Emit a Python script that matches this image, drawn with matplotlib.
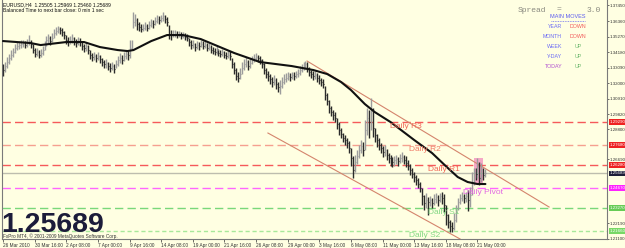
import numpy as np
import matplotlib
matplotlib.use("Agg")
import matplotlib.pyplot as plt
import matplotlib.transforms as mtransforms

# --- dados do gráfico (EURUSD H4) ---
highs = [
    1.3335, 1.3349, 1.3384, 1.3405, 1.3433, 1.3447, 1.3475, 1.3489, 1.3496, 1.3503,
    1.3503, 1.3496, 1.3510, 1.3538, 1.3503, 1.3475, 1.3447, 1.3447, 1.3433, 1.3440,
    1.3461, 1.3496, 1.3531, 1.3545, 1.3531, 1.3552, 1.3580, 1.3594, 1.3601, 1.3594,
    1.3587, 1.3566, 1.3538, 1.3524, 1.3531, 1.3545, 1.3524, 1.3510, 1.3524, 1.3517,
    1.3496, 1.3475, 1.3489, 1.3468, 1.3433, 1.3412, 1.3419, 1.3405, 1.3419, 1.3398,
    1.3377, 1.3363, 1.3370, 1.3349, 1.3342, 1.3349, 1.3335, 1.3363, 1.3391, 1.3412,
    1.3398, 1.3419, 1.3433, 1.3426, 1.3503, 1.3503, 1.3699, 1.3685, 1.3657, 1.3629,
    1.3615, 1.3615, 1.3629, 1.3615, 1.3636, 1.3650, 1.3643, 1.3664, 1.3678, 1.3671,
    1.3678, 1.3699, 1.3678, 1.3664, 1.3608, 1.3573, 1.3573, 1.3573, 1.3566, 1.3566,
    1.3559, 1.3559, 1.3552, 1.3545, 1.3517, 1.3503, 1.3503, 1.3482, 1.3496, 1.3489,
    1.3503, 1.3496, 1.3496, 1.3482, 1.3482, 1.3468, 1.3454, 1.3447, 1.3461, 1.3440,
    1.3433, 1.3440, 1.3426, 1.3419, 1.3426, 1.3426, 1.3377, 1.3349, 1.3307, 1.3279,
    1.3307, 1.3349, 1.3370, 1.3384, 1.3363, 1.3377, 1.3391, 1.3405, 1.3412, 1.3398,
    1.3391, 1.3370, 1.3342, 1.3307, 1.3286, 1.3265, 1.3244, 1.3258, 1.3237, 1.3209,
    1.3223, 1.3244, 1.3265, 1.3272, 1.3279, 1.3272, 1.3279, 1.3279, 1.3286, 1.3300,
    1.3321, 1.3335, 1.3349, 1.3356, 1.3349, 1.3314, 1.3293, 1.3286, 1.3286, 1.3272,
    1.3258, 1.3237, 1.3230, 1.3181, 1.3132, 1.3083, 1.3041, 1.3013, 1.2999, 1.2957,
    1.2929, 1.2887, 1.2852, 1.2838, 1.2817, 1.2796, 1.2747, 1.2691, 1.2698, 1.2733,
    1.2768, 1.2803, 1.2789, 1.2943, 1.3027, 1.3013, 1.3097, 1.3027, 1.2887, 1.2845,
    1.2817, 1.2782, 1.2761, 1.2768, 1.2740, 1.2712, 1.2698, 1.2684, 1.2691, 1.2698,
    1.2684, 1.2705, 1.2719, 1.2698, 1.2691, 1.2663, 1.2635, 1.2607, 1.2579, 1.2558,
    1.2537, 1.2509, 1.2467, 1.2418, 1.2432, 1.2404, 1.2411, 1.2397, 1.2425, 1.2432,
    1.2418, 1.2432, 1.2439, 1.2425, 1.2348, 1.2285, 1.2243, 1.2229, 1.2292, 1.2348,
    1.2397, 1.2425, 1.2439, 1.2425, 1.2439, 1.2453, 1.2474, 1.2579, 1.2607, 1.2607,
    1.2677, 1.2649, 1.2642, 1.2607, 1.2597,
]
lows = [
    1.3251, 1.3279, 1.3307, 1.3335, 1.3363, 1.3384, 1.3412, 1.3433, 1.3440, 1.3447,
    1.3454, 1.3447, 1.3454, 1.3468, 1.3447, 1.3412, 1.3384, 1.3391, 1.3377, 1.3384,
    1.3398, 1.3433, 1.3461, 1.3482, 1.3468, 1.3489, 1.3517, 1.3538, 1.3552, 1.3545,
    1.3531, 1.3510, 1.3475, 1.3461, 1.3475, 1.3482, 1.3468, 1.3454, 1.3468, 1.3461,
    1.3433, 1.3419, 1.3426, 1.3405, 1.3370, 1.3356, 1.3363, 1.3349, 1.3363, 1.3342,
    1.3321, 1.3307, 1.3307, 1.3293, 1.3279, 1.3293, 1.3272, 1.3307, 1.3321, 1.3342,
    1.3335, 1.3356, 1.3370, 1.3363, 1.3377, 1.3433, 1.3587, 1.3601, 1.3573, 1.3566,
    1.3559, 1.3566, 1.3573, 1.3566, 1.3580, 1.3594, 1.3587, 1.3608, 1.3622, 1.3615,
    1.3629, 1.3636, 1.3622, 1.3601, 1.3510, 1.3503, 1.3524, 1.3524, 1.3517, 1.3524,
    1.3510, 1.3517, 1.3503, 1.3496, 1.3461, 1.3440, 1.3447, 1.3426, 1.3440, 1.3433,
    1.3454, 1.3440, 1.3447, 1.3426, 1.3433, 1.3412, 1.3405, 1.3398, 1.3405, 1.3391,
    1.3384, 1.3391, 1.3377, 1.3370, 1.3377, 1.3363, 1.3307, 1.3265, 1.3223, 1.3209,
    1.3230, 1.3265, 1.3293, 1.3314, 1.3293, 1.3307, 1.3335, 1.3349, 1.3356, 1.3349,
    1.3335, 1.3307, 1.3265, 1.3237, 1.3216, 1.3195, 1.3174, 1.3188, 1.3160, 1.3139,
    1.3125, 1.3167, 1.3195, 1.3209, 1.3223, 1.3216, 1.3230, 1.3223, 1.3237, 1.3244,
    1.3258, 1.3279, 1.3293, 1.3300, 1.3279, 1.3251, 1.3237, 1.3223, 1.3230, 1.3209,
    1.3195, 1.3181, 1.3167, 1.3083, 1.3048, 1.2992, 1.2971, 1.2943, 1.2929, 1.2880,
    1.2838, 1.2817, 1.2789, 1.2768, 1.2747, 1.2712, 1.2621, 1.2537, 1.2579, 1.2635,
    1.2677, 1.2712, 1.2691, 1.2733, 1.2838, 1.2817, 1.2873, 1.2824, 1.2789, 1.2754,
    1.2733, 1.2712, 1.2684, 1.2691, 1.2663, 1.2642, 1.2621, 1.2614, 1.2621, 1.2635,
    1.2621, 1.2642, 1.2649, 1.2635, 1.2614, 1.2593, 1.2558, 1.2537, 1.2509, 1.2488,
    1.2467, 1.2439, 1.2348, 1.2313, 1.2327, 1.2278, 1.2341, 1.2327, 1.2348, 1.2362,
    1.2341, 1.2369, 1.2355, 1.2299, 1.2208, 1.2187, 1.2159, 1.2159, 1.2173, 1.2229,
    1.2313, 1.2355, 1.2376, 1.2362, 1.2369, 1.2306, 1.2334, 1.2418, 1.2488, 1.2523,
    1.2537, 1.2488, 1.2509, 1.2523, 1.2546,
]
closes = [
    1.3293, 1.3321, 1.3349, 1.3377, 1.3398, 1.3419, 1.3447, 1.3461, 1.3468, 1.3475,
    1.3482, 1.3468, 1.3482, 1.3496, 1.3475, 1.3433, 1.3405, 1.3419, 1.3398, 1.3412,
    1.3433, 1.3468, 1.3503, 1.3517, 1.3496, 1.3517, 1.3552, 1.3566, 1.3580, 1.3573,
    1.3559, 1.3538, 1.3503, 1.3489, 1.3503, 1.3517, 1.3496, 1.3482, 1.3496, 1.3489,
    1.3461, 1.3447, 1.3461, 1.3433, 1.3398, 1.3384, 1.3391, 1.3377, 1.3391, 1.3370,
    1.3349, 1.3335, 1.3342, 1.3321, 1.3307, 1.3321, 1.3300, 1.3335, 1.3363, 1.3377,
    1.3363, 1.3391, 1.3405, 1.3398, 1.3447, 1.3468, 1.3629, 1.3643, 1.3615, 1.3594,
    1.3580, 1.3587, 1.3601, 1.3587, 1.3608, 1.3622, 1.3615, 1.3636, 1.3650, 1.3643,
    1.3657, 1.3671, 1.3650, 1.3629, 1.3545, 1.3538, 1.3545, 1.3552, 1.3538, 1.3545,
    1.3531, 1.3538, 1.3524, 1.3517, 1.3489, 1.3468, 1.3475, 1.3454, 1.3468, 1.3461,
    1.3475, 1.3461, 1.3468, 1.3447, 1.3454, 1.3433, 1.3426, 1.3419, 1.3433, 1.3412,
    1.3405, 1.3419, 1.3398, 1.3391, 1.3398, 1.3391, 1.3335, 1.3293, 1.3251, 1.3237,
    1.3265, 1.3307, 1.3335, 1.3349, 1.3321, 1.3342, 1.3363, 1.3377, 1.3384, 1.3377,
    1.3363, 1.3335, 1.3293, 1.3265, 1.3251, 1.3230, 1.3209, 1.3223, 1.3195, 1.3174,
    1.3181, 1.3209, 1.3230, 1.3237, 1.3251, 1.3244, 1.3258, 1.3251, 1.3265, 1.3272,
    1.3293, 1.3307, 1.3321, 1.3335, 1.3307, 1.3279, 1.3265, 1.3251, 1.3258, 1.3237,
    1.3223, 1.3209, 1.3195, 1.3118, 1.3076, 1.3027, 1.2999, 1.2978, 1.2957, 1.2915,
    1.2873, 1.2845, 1.2817, 1.2803, 1.2782, 1.2747, 1.2677, 1.2593, 1.2649, 1.2691,
    1.2733, 1.2761, 1.2733, 1.2873, 1.2957, 1.2929, 1.3013, 1.2887, 1.2838, 1.2803,
    1.2768, 1.2747, 1.2719, 1.2733, 1.2698, 1.2677, 1.2663, 1.2649, 1.2663, 1.2670,
    1.2656, 1.2677, 1.2684, 1.2663, 1.2642, 1.2621, 1.2593, 1.2565, 1.2544, 1.2523,
    1.2495, 1.2467, 1.2411, 1.2362, 1.2383, 1.2369, 1.2383, 1.2362, 1.2390, 1.2404,
    1.2383, 1.2411, 1.2397, 1.2348, 1.2278, 1.2229, 1.2201, 1.2187, 1.2243, 1.2299,
    1.2369, 1.2397, 1.2411, 1.2397, 1.2411, 1.2383, 1.2418, 1.2509, 1.2579, 1.2565,
    1.2628, 1.2537, 1.2593, 1.2558, 1.25689,
]

# média móvel
ma_idx = [0, 14, 19, 32, 41, 49, 58, 63, 66, 70, 75, 83, 91, 100, 117, 130, 146, 157,
          164, 171, 176, 183, 188, 196, 208, 217, 225, 230, 235, 240, 244]
ma_val = [1.3496, 1.3482, 1.3468, 1.3489, 1.3489, 1.3454, 1.3433, 1.3426, 1.3433,
          1.3461, 1.3496, 1.3538, 1.3538, 1.3510, 1.3412, 1.3349, 1.3321, 1.3293,
          1.3265, 1.3209, 1.3153, 1.3055, 1.2999, 1.2929, 1.2803, 1.2712, 1.2607,
          1.2544, 1.2509, 1.2495, 1.2495]

# canal de tendência
canal_sup_idx = [153.8, 276.2]
canal_sup_val = [1.3356, 1.2334]
canal_inf_idx = [134.0, 231.2]
canal_inf_val = [1.2852, 1.2110]

# pivôs diários
pivo_nomes = ["Daily R3", "Daily R2", "Daily R1", "Daily Pivot", "Daily S1", "Daily S2"]
pivo_vals = [1.2929, 1.2768, 1.2628, 1.2467, 1.2327, 1.2166]

# faixa do dia (retângulo rosa)
faixa_idx = [238, 243]
faixa_vals = [1.2488, 1.2677]

preco_atual = 1.25689

x_labels = ["26 Mar 2010", "30 Mar 16:00", "2 Apr 08:00", "7 Apr 00:00", "9 Apr 16:00",
            "14 Apr 08:00", "19 Apr 00:00", "21 Apr 16:00", "26 Apr 08:00", "29 Apr 00:00",
            "3 May 16:00", "6 May 08:00", "11 May 00:00", "13 May 16:00", "18 May 08:00",
            "21 May 00:00"]
y_ticks = [1.2110, 1.2219, 1.2669, 1.2880, 1.2982, 1.3091, 1.3200, 1.3309, 1.3418,
           1.3527, 1.3636, 1.3745]

movimentos = ["YEAR", "MONTH", "WEEK", "Y-DAY", "TODAY"]
direcoes = ["DOWN", "DOWN", "UP", "UP", "UP"]

# --- figura ---
W, H = 625, 248
fundo = "#FFFFE2"
fig = plt.figure(figsize=(W / 100, H / 100), dpi=100, facecolor=fundo)
ax = fig.add_axes([2 / W, 9 / H, 605 / W, 239 / H], facecolor=fundo)

n = len(closes)
idx = np.arange(n)
cores = ["#303030"] + ["#9c9c9c" if closes[i] >= closes[i - 1] else "#2a2a2a"
                       for i in range(1, n)]

# faixa rosa
ax.fill_between(faixa_idx, faixa_vals[0], faixa_vals[1], color="#f5a8c6", lw=0, zorder=1)

# linhas de pivô
cores_pivo = ["#f55a5a", "#f5a090", "#f55a5a", "#ff66ff", "#7ad87a", "#a8e89a"]
cores_txt = ["#f06a5a", "#f07a66", "#f06a5a", "#e266e2", "#84d884", "#84d884"]
dashes_pivo = [(6, 3), (6, 3), (6, 3), (6, 3), (6, 3), (3, 2)]
pos_txt = [195.8, 205.4, 215.0, 232.7, 215.0, 205.4]
for nome, v, c, ct, d, px in zip(pivo_nomes, pivo_vals, cores_pivo, cores_txt,
                                  dashes_pivo, pos_txt):
    ax.axhline(v, color=c, lw=1, dashes=d, zorder=2)
    ax.text(px, v - 0.0006, nome, color=ct, fontsize=6, va="top", ha="left",
            family="Liberation Sans", zorder=6)

# preço atual
ax.axhline(preco_atual, color="#bdbdae", lw=1, zorder=2)

# canal
ax.plot(canal_sup_idx, canal_sup_val, color="#d4846c", lw=0.8, zorder=3)
ax.plot(canal_inf_idx, canal_inf_val, color="#d4846c", lw=0.8, zorder=3)

# barras OHLC
ax.vlines(idx, lows, highs, colors=cores, lw=1, zorder=4)
ax.hlines(closes, idx, idx + 0.5, colors=cores, lw=0.8, zorder=4)

# média móvel
ax.plot(ma_idx, ma_val, color="#111111", lw=1.5, zorder=5, solid_capstyle="round")

ax.set_xlim(-0.5, 305.5)
ax.set_ylim(1.21104, 1.37834)

ax.spines["top"].set_visible(False)
for s in ["left", "right", "bottom"]:
    ax.spines[s].set_color("#7a7a7a")
    ax.spines[s].set_linewidth(0.8)

ax.set_xticks(np.arange(0, 16 * len(x_labels), 16))
ax.set_xticklabels(x_labels, ha="left", fontsize=3.4, family="Liberation Sans")
ax.tick_params(axis="x", length=2, width=0.5, pad=1, colors="#333333")
ax.yaxis.tick_right()
ax.set_yticks(y_ticks)
ax.set_yticklabels([f"{v:.5f}" for v in y_ticks], fontsize=3.2, family="Liberation Sans")
ax.tick_params(axis="y", length=1.5, width=0.5, pad=0.6, colors="#333333")

# rótulos coloridos no eixo de preço
trans = mtransforms.blended_transform_factory(ax.transAxes, ax.transData)
cores_box = ["#ee2222", "#ee2222", "#ee2222", "#ff22ff", "#66cc55", "#77d866"]
for v, c in zip(pivo_vals, cores_box):
    ax.text(1.004, v, f"{v:.5f}", transform=trans, fontsize=3.2, color="white",
            va="center", ha="left", family="Liberation Sans", clip_on=False,
            bbox=dict(facecolor=c, edgecolor="none", pad=0.4))
ax.text(1.004, preco_atual, f"{preco_atual:.5f}", transform=trans, fontsize=3.2,
        color="white", va="center", ha="left", family="Liberation Sans", clip_on=False,
        bbox=dict(facecolor="#1e1e38", edgecolor="none", pad=0.4))

# textos do topo
def fx(px):
    return px / W

def fy(py):
    return 1 - py / H

fig.text(fx(3), fy(5), "EURUSD,H4  1.25505 1.25969 1.25460 1.25689", fontsize=3.6,
         va="center", family="Liberation Sans", color="#111111")
fig.text(fx(3), fy(10.5), "Balanced Time to next bar close: 0 min 1 sec", fontsize=3.6,
         va="center", family="Liberation Sans", color="#111111")

fig.text(fx(518), fy(10), "Spread", fontsize=5.8, va="center", family="Liberation Mono",
         color="#8a8a80")
fig.text(fx(557), fy(9.5), "=", fontsize=5.8, va="center", family="Liberation Mono",
         color="#8a8a80")
fig.text(fx(587), fy(10), "3.0", fontsize=5.8, va="center", family="Liberation Mono",
         color="#8a8a80")

fig.text(fx(568), fy(16), "MAIN MOVES", fontsize=4, va="center", ha="center",
         family="Liberation Sans", color="#5a5af0")
fig.add_artist(plt.Line2D([fx(551), fx(585)], [fy(20.5), fy(20.5)], color="#7070f0",
                          lw=0.6, ls=(0, (1, 1))))
cores_mov = ["#6a6af5", "#6a6af5", "#6a6af5", "#6a6af5", "#b050d0"]
for k, (m, d, cm) in enumerate(zip(movimentos, direcoes, cores_mov)):
    yy = fy(27 + k * 9.8)
    fig.text(fx(562), yy, m, fontsize=3.8, va="center", ha="right",
             family="Liberation Sans", color=cm)
    cd = "#f25a5a" if d == "DOWN" else "#6db86d"
    fig.text(fx(578), yy, d, fontsize=3.8, va="center", ha="center",
             family="Liberation Sans", color=cd)

# preço grande e rodapé
fig.text(fx(1), fy(232), f"{preco_atual:.5f}", fontsize=20.5, fontweight="bold",
         family="Liberation Sans", color="#1c1c3a", va="baseline", ha="left", zorder=7)
fig.text(fx(3), fy(236), "FxPro MT4, \u00a9 2001-2009 MetaQuotes Software Corp.",
         fontsize=3.4, va="center", family="Liberation Sans", color="#333333")

fig.savefig("out.png", dpi=100, facecolor=fundo)
